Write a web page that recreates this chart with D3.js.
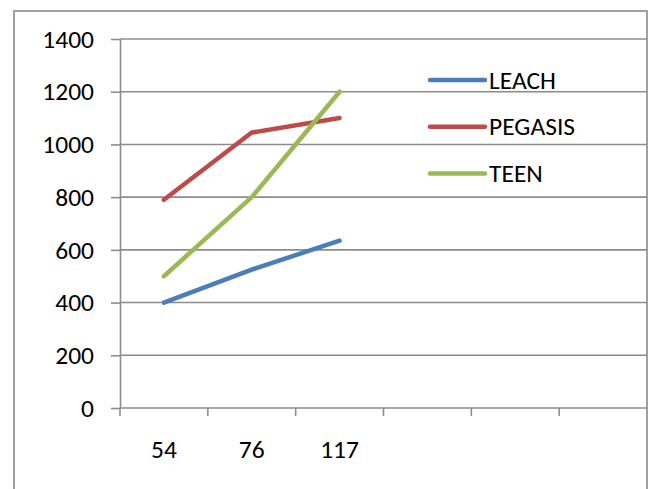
<!DOCTYPE html>
<html>
<head>
<meta charset="utf-8">
<script src="https://cdn.jsdelivr.net/npm/d3@7"></script>
<style>
  html, body { margin: 0; padding: 0; background: #fff; }
  svg { display: block; }
  text { font-family: Carlito, "Open Sans", sans-serif; fill: #000; }
</style>
</head>
<body>
<svg id="chart" width="649" height="489"></svg>
<script>
// Category labels along the x axis (last three slots are empty)
const categories = ["54", "76", "117", "", "", ""];
// Series values, one per filled category
const leach   = [400, 525, 635];
const pegasis = [790, 1045, 1100];
const teen    = [500, 800, 1200];
const seriesNames = ["LEACH", "PEGASIS", "TEEN"];
const seriesColors = ["#4A7EBB", "#BE4B48", "#98B954"];
const yTicks = [0, 200, 400, 600, 800, 1000, 1200, 1400];

const series = [leach, pegasis, teen].map((vals, i) => ({
  name: seriesNames[i], color: seriesColors[i], values: vals
}));

const svg = d3.select("#chart");
const gridColor = "#8c8c8c";
const fontSize = 25.5;
const fontFamily = 'Carlito, "Open Sans", sans-serif';

const plot = { left: 120, right: 647, top: 39, bottom: 408 };

const x = d3.scaleBand()
  .domain(d3.range(categories.length))
  .range([plot.left, plot.right])
  .padding(0);

const y = d3.scaleLinear()
  .domain([0, 1400])
  .range([plot.bottom, plot.top]);

// Outer chart border
svg.append("rect")
  .attr("x", 14).attr("y", 11)
  .attr("width", 633).attr("height", 500)
  .attr("fill", "none")
  .attr("stroke", "#a0a0a0")
  .attr("stroke-width", 2);

// Horizontal gridlines
svg.append("g")
  .selectAll("line")
  .data(yTicks.filter(d => d > 0))
  .join("line")
  .attr("x1", plot.left).attr("x2", plot.right)
  .attr("y1", d => y(d)).attr("y2", d => y(d))
  .attr("stroke", gridColor)
  .attr("stroke-width", 1.6);

// Y axis
const yAxis = svg.append("g")
  .attr("transform", `translate(${plot.left},0)`)
  .call(d3.axisLeft(y).tickValues(yTicks).tickFormat(d3.format("d"))
    .tickSize(9).tickPadding(17).tickSizeOuter(0));
yAxis.attr("font-size", fontSize).attr("font-family", fontFamily);
yAxis.select(".domain").attr("stroke", gridColor).attr("stroke-width", 1.6);
yAxis.selectAll(".tick line").attr("stroke", gridColor).attr("stroke-width", 1.6);
yAxis.selectAll(".tick text").attr("fill", "#000");

// X axis: ticks at category boundaries, labels at category centres
const xAxisG = svg.append("g")
  .attr("transform", `translate(0,${plot.bottom})`);
xAxisG.append("line")
  .attr("x1", plot.left).attr("x2", plot.right)
  .attr("stroke", gridColor).attr("stroke-width", 1.6);
xAxisG.selectAll("line.tick")
  .data(d3.range(categories.length))
  .join("line")
  .attr("class", "tick")
  .attr("x1", d => x(d)).attr("x2", d => x(d))
  .attr("y1", 0).attr("y2", 8)
  .attr("stroke", gridColor).attr("stroke-width", 1.6);
xAxisG.selectAll("text")
  .data(categories)
  .join("text")
  .attr("x", (d, i) => x(i) + x.bandwidth() / 2)
  .attr("y", 50)
  .attr("text-anchor", "middle")
  .attr("font-size", fontSize)
  .text(d => d);

// Series lines
const line = d3.line()
  .x((d, i) => x(i) + x.bandwidth() / 2)
  .y(d => y(d));

svg.append("g")
  .selectAll("path")
  .data(series)
  .join("path")
  .attr("d", d => line(d.values))
  .attr("fill", "none")
  .attr("stroke", d => d.color)
  .attr("stroke-width", 4.5)
  .attr("stroke-linecap", "round")
  .attr("stroke-linejoin", "round");

// Legend
const legend = svg.append("g");
const legendRow = legend.selectAll("g")
  .data(series)
  .join("g")
  .attr("transform", (d, i) => `translate(430,${80 + i * 46.7})`);
legendRow.append("line")
  .attr("x1", 0).attr("x2", 55)
  .attr("stroke", d => d.color)
  .attr("stroke-width", 4.5)
  .attr("stroke-linecap", "round");
legendRow.append("text")
  .attr("x", 59)
  .attr("y", 8.5)
  .attr("font-size", fontSize)
  .text(d => d.name);
</script>
</body>
</html>
